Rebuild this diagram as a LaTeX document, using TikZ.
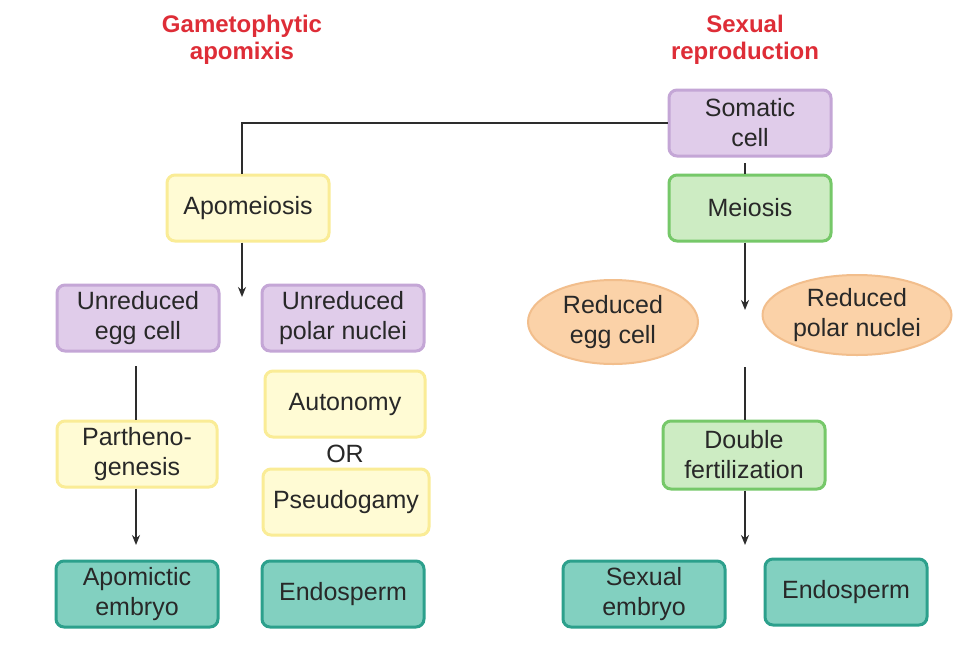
\documentclass[tikz,border=0pt]{standalone}
\usepackage{fontspec}
\setmainfont{Liberation Sans}
\usetikzlibrary{arrows.meta,shapes.geometric}
\definecolor{txt}{RGB}{40,40,40}
\definecolor{titlered}{RGB}{222,45,55}
\definecolor{lavfill}{RGB}{224,204,234}
\definecolor{lavline}{RGB}{196,166,214}
\definecolor{grnfill}{RGB}{205,236,195}
\definecolor{grnline}{RGB}{118,200,105}
\definecolor{yelfill}{RGB}{255,251,212}
\definecolor{yelline}{RGB}{250,236,150}
\definecolor{tealfill}{RGB}{130,208,192}
\definecolor{tealline}{RGB}{44,160,140}
\definecolor{orfill}{RGB}{251,210,168}
\definecolor{orline}{RGB}{242,190,140}
\definecolor{conn}{RGB}{45,45,45}
\tikzset{
  box/.style={rectangle, rounded corners=8pt, line width=3pt, minimum width=#1, minimum height=66pt,
     align=center, text=txt, font=\fontsize{25}{30}\selectfont, inner sep=2pt},
  box/.default=162pt,
  lav/.style={box, fill=lavfill, draw=lavline},
  grn/.style={box, fill=grnfill, draw=grnline},
  yel/.style={box, fill=yelfill, draw=yelline},
  teal/.style={box, fill=tealfill, draw=tealline},
  oval/.style={ellipse, line width=2pt, fill=orfill, draw=orline, align=center, text=txt,
     font=\fontsize{25}{30}\selectfont, inner sep=0pt},
  ttl/.style={align=center, text=titlered, font=\fontsize{24}{27}\selectfont\bfseries},
  conline/.style={draw=conn, line width=1.8pt},
  arr/.style={conline, -{Stealth[length=10pt,width=8pt]}},
}
\begin{document}
\begin{tikzpicture}[x=1pt,y=-1pt]
\useasboundingbox[fill=white] (0,0) rectangle (980,657);
% titles
\node[ttl] (t1) at (242,40) {Gametophytic\\apomixis};
\node[ttl] (t2) at (745,40) {Sexual\\reproduction};
% right column
\node[lav] (som) at (750,123) {Somatic\\cell};
\node[grn] (mei) at (750,208) {Meiosis};
\node[oval, minimum width=170pt, minimum height=84pt] (regg) at (613,322) {Reduced\\egg cell};
\node[oval, minimum width=189pt, minimum height=80pt] (rpol) at (857,315) {Reduced\\polar nuclei};
\node[grn, minimum height=68pt] (dbl) at (744,455) {Double\\fertilization};
\node[teal] (sem) at (644,594) {Sexual\\embryo};
\node[teal] (rend) at (846,592) {Endosperm};
% left column
\node[yel] (apo) at (248,208) {Apomeiosis};
\node[lav] (uegg) at (138,318) {Unreduced\\egg cell};
\node[lav] (upol) at (343,318) {Unreduced\\polar nuclei};
\node[yel, minimum width=160pt] (aut) at (345,404) {Autonomy};
\node[text=txt, font=\fontsize{25}{30}\selectfont] (or) at (345,454) {OR};
\node[yel, minimum width=166pt] (pse) at (346,502) {Pseudogamy};
\node[yel, minimum width=160pt] (par) at (137,454) {Partheno-\\genesis};
\node[teal] (aem) at (137,594) {Apomictic\\embryo};
\node[teal] (lend) at (343,594) {Endosperm};
% connectors
\coordinate (c1) at (242,123);
\draw[conline] (som.west) -- (c1) -- (apo.north -| c1);
\coordinate (a1) at (242,297);
\draw[arr] (apo.south -| a1) -- (a1);
\coordinate (p0) at (136,366);
\draw[conline] (p0) -- (par.north -| p0);
\coordinate (p1) at (136,545);
\draw[arr] (par.south -| p1) -- (p1);
\coordinate (m0) at (745,163);
\draw[conline] (m0) -- (mei.north -| m0);
\coordinate (m1) at (745,310);
\draw[arr] (mei.south -| m1) -- (m1);
\coordinate (d0) at (745,367);
\draw[conline] (d0) -- (dbl.north -| d0);
\coordinate (d1) at (745,545);
\draw[arr] (dbl.south -| d1) -- (d1);
\end{tikzpicture}
\end{document}
